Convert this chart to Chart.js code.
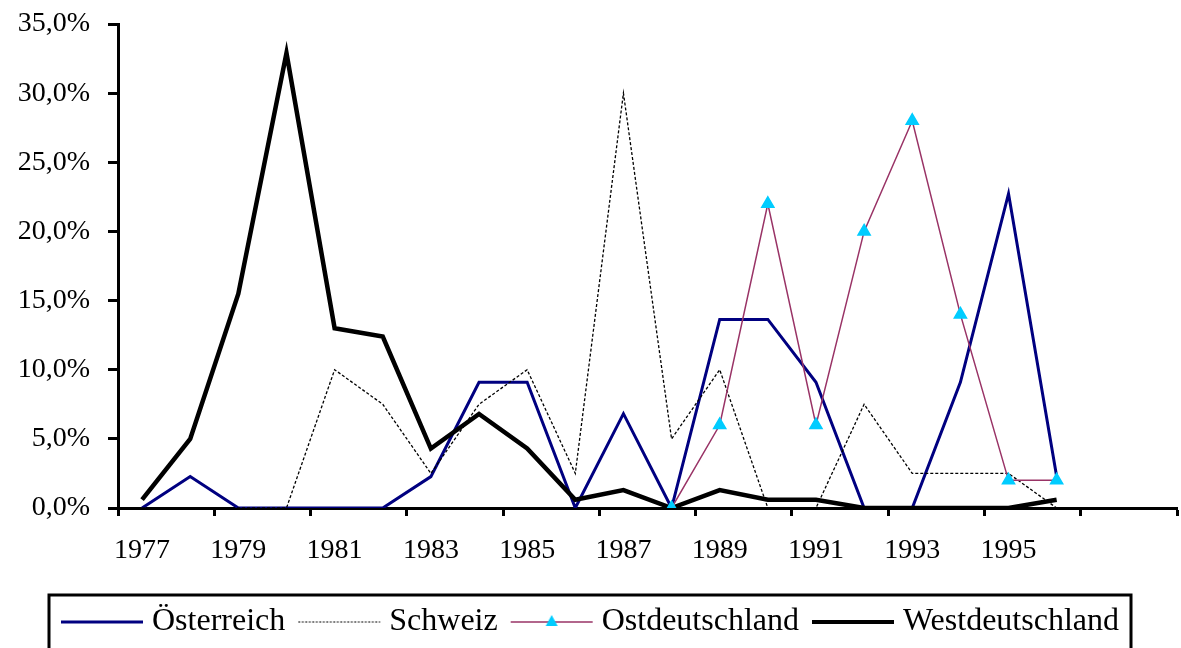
<!DOCTYPE html>
<html>
<head>
<meta charset="utf-8">
<script src="https://cdn.jsdelivr.net/npm/chart.js@4.4.1/dist/chart.umd.min.js"></script>
<style>
  html, body { margin: 0; padding: 0; background: #fff; }
  #wrap { width: 1181px; height: 648px; }
</style>
</head>
<body>
<div id="wrap"><canvas id="chart" width="1181" height="648"></canvas></div>
<script>
// categories (last two bands are empty in the original)
const years = ['1977', '1978', '1979', '1980', '1981', '1982', '1983', '1984', '1985', '1986',
  '1987', '1988', '1989', '1990', '1991', '1992', '1993', '1994', '1995', '1996', '', ''];

// values in percent
const oesterreich = [0, 2.27, 0, 0, 0, 0, 2.27, 9.09, 9.09, 0, 6.82, 0, 13.64, 13.64, 9.09, 0, 0, 9.09, 22.73, 2.27];
const schweiz = [0, 0, 0, 0, 10, 7.5, 2.5, 7.5, 10, 2.5, 30, 5, 10, 0, 0, 7.5, 2.5, 2.5, 2.5, 0];
const ostdeutschland = [null, null, null, null, null, null, null, null, null, null, null, 0, 6, 22, 6, 20, 28, 14, 2, 2];
const westdeutschland = [0.6, 5.0, 15.5, 32.9, 13.0, 12.4, 4.3, 6.8, 4.3, 0.6, 1.3, 0, 1.3, 0.6, 0.6, 0, 0, 0, 0, 0.6];

const yTicks = [0, 5, 10, 15, 20, 25, 30, 35];

Chart.defaults.font.family = '"Liberation Serif", "Times New Roman", serif';
Chart.defaults.color = '#000';

// little legend samples: line, optionally with marker
function sample(color, width, dash, marker) {
  const c = document.createElement('canvas');
  c.width = 96; c.height = 16;
  const g = c.getContext('2d');
  g.strokeStyle = color;
  g.lineWidth = width;
  g.setLineDash(dash || []);
  g.beginPath();
  g.moveTo(12, 8);
  g.lineTo(94, 8);
  g.stroke();
  if (marker) {
    g.fillStyle = marker;
    g.beginPath();
    g.moveTo(53, 1);
    g.lineTo(59, 12);
    g.lineTo(47, 12);
    g.closePath();
    g.fill();
  }
  return c;
}
const legendSamples = [
  sample('#000080', 3),
  sample('#000', 1.2, [2, 1.5]),
  sample('#993366', 1.5, null, '#00CCFF'),
  sample('#000', 4)
];

// stretch plot area to the right edge (the category axis keeps some spare room otherwise)
const widenArea = {
  id: 'widenArea',
  afterLayout(chart) {
    const right = chart.width - 4;
    const a = chart.chartArea;
    a.right = right;
    a.width = right - a.left;
    const x = chart.scales.x;
    x.right = right;
    x.width = right - x.left;
    x.configure();
  }
};

const legendFrame = {
  id: 'legendFrame',
  afterDraw(chart) {
    const hb = chart.legend.legendHitBoxes;
    if (!hb || !hb.length) return;
    const first = hb[0], last = hb[hb.length - 1];
    const ctx = chart.ctx;
    ctx.save();
    ctx.strokeStyle = '#000';
    ctx.lineWidth = 3;
    const left = first.left - 9;
    const right = last.left + last.width + 12;
    const top = first.top - 11;
    ctx.strokeRect(left, top, right - left, chart.height - top + 20);
    ctx.restore();
  }
};

const tickEveryOther = (c) => (c.index === undefined || c.index % 2 === 0) ? '#000' : 'rgba(0,0,0,0)';

new Chart(document.getElementById('chart'), {
  type: 'line',
  data: {
    labels: years,
    datasets: [
      {
        label: 'Österreich',
        data: oesterreich,
        borderColor: '#000080',
        borderWidth: 3,
        pointRadius: 0,
        order: 3
      },
      {
        label: 'Schweiz',
        data: schweiz,
        borderColor: '#000',
        borderWidth: 1.3,
        borderDash: [3, 2],
        pointRadius: 0,
        order: 1
      },
      {
        label: 'Ostdeutschland',
        data: ostdeutschland,
        borderColor: '#993366',
        borderWidth: 1.5,
        pointStyle: 'triangle',
        pointRadius: 7,
        pointBackgroundColor: '#00CCFF',
        pointBorderColor: '#00CCFF',
        order: 0
      },
      {
        label: 'Westdeutschland',
        data: westdeutschland,
        borderColor: '#000',
        borderWidth: 4.5,
        pointRadius: 0,
        order: 2
      }
    ]
  },
  options: {
    responsive: false,
    animation: false,
    events: [],
    layout: { padding: { top: 0, right: 4, bottom: 0, left: 0 } },
    elements: { line: { tension: 0, borderCapStyle: 'butt', borderJoinStyle: 'miter' } },
    scales: {
      x: {
        offset: true,
        grid: {
          offset: true,
          drawOnChartArea: false,
          drawTicks: true,
          tickLength: 8,
          tickWidth: 3,
          tickColor: tickEveryOther
        },
        border: { display: true, color: '#000', width: 3 },
        ticks: {
          autoSkip: false,
          maxRotation: 0,
          padding: 18,
          font: { size: 28 },
          callback: (v, i) => i % 2 === 0 ? years[i] : ''
        },
        afterFit: (s) => { s.height = 88; s.paddingLeft = 0; s.paddingRight = 0; }
      },
      y: {
        min: 0,
        max: 35,
        afterBuildTicks: (s) => { s.ticks = yTicks.map(v => ({ value: v })); },
        grid: {
          drawOnChartArea: false,
          drawTicks: true,
          tickLength: 10,
          tickWidth: 3,
          tickColor: '#000'
        },
        border: { display: true, color: '#000', width: 3 },
        ticks: {
          padding: 18,
          font: { size: 28 },
          callback: (v) => v.toFixed(1).replace('.', ',') + '%'
        },
        afterFit: (s) => { s.width = 118; s.paddingTop = 24; s.paddingBottom = 0; }
      }
    },
    plugins: {
      title: { display: false },
      tooltip: { enabled: false },
      legend: {
        position: 'bottom',
        labels: {
          usePointStyle: true,
          pointStyleWidth: 78,
          padding: 10,
          font: { size: 32 },
          color: '#000',
          sort: (a, b) => a.datasetIndex - b.datasetIndex,
          generateLabels: (chart) => {
            const items = Chart.defaults.plugins.legend.labels.generateLabels(chart);
            items.forEach(it => { it.pointStyle = legendSamples[it.datasetIndex]; });
            return items;
          }
        }
      }
    }
  },
  plugins: [widenArea, legendFrame]
});
</script>
</body>
</html>
